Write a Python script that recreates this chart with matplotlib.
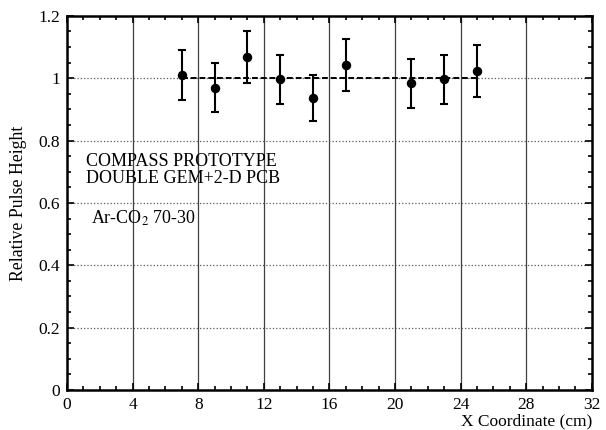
import numpy as np
import matplotlib
matplotlib.use('Agg')
import matplotlib.pyplot as plt
from matplotlib.ticker import MultipleLocator, FormatStrFormatter

# data
x_pos = [7, 9, 11, 13, 15, 17, 21, 23, 25]
rel_height = [1.01, 0.97, 1.068, 0.997, 0.937, 1.042, 0.984, 0.997, 1.024]
rel_err = [0.081, 0.079, 0.084, 0.078, 0.075, 0.084, 0.079, 0.079, 0.083]
fit_x = [7, 25]
fit_y = [1.0, 1.0]
x_ticks = [0, 4, 8, 12, 16, 20, 24, 28, 32]
y_ticks = [0, 0.2, 0.4, 0.6, 0.8, 1.0, 1.2]

plt.rcParams['font.family'] = ['Liberation Serif', 'DejaVu Serif']
plt.rcParams['mathtext.fontset'] = 'stix'

fig = plt.figure(figsize=(6.06, 4.30), dpi=100)
ax = fig.add_axes([0.1106, 0.093, 0.866, 0.870])

# grid
for xv in x_ticks[1:-1]:
    ax.axvline(xv, color='0.25', linewidth=0.9, linestyle='-', zorder=0)
for yv in y_ticks[1:-1]:
    ax.axhline(yv, color='0.35', linewidth=0.9, linestyle=':', zorder=0)

# fit line and points
ax.plot(fit_x, fit_y, color='black', linestyle='--', linewidth=1.4, dashes=(3, 1.5), zorder=2)
ax.errorbar(x_pos, rel_height, yerr=rel_err, fmt='o', color='black',
            markersize=5.8, elinewidth=1.5, capsize=3, capthick=1.5, zorder=3)

ax.set_xlim(0, 32)
ax.set_ylim(0, 1.2)
ax.set_xticks(x_ticks)
ax.set_yticks(y_ticks)
ax.xaxis.set_minor_locator(MultipleLocator(1))
ax.yaxis.set_minor_locator(MultipleLocator(0.05))
ax.yaxis.set_major_formatter(FormatStrFormatter('%g'))
ax.tick_params(which='both', direction='in', top=True, right=True, labelsize=12.5, width=1.2)
ax.tick_params(which='major', length=5, pad=5)
ax.tick_params(which='minor', length=3)
for sp in ax.spines.values():
    sp.set_linewidth(1.8)

ax.set_ylabel('Relative Pulse Height', fontsize=12.8, labelpad=8)
ax.set_xlabel('X Coordinate (cm)', fontsize=12.5, loc='right', labelpad=0)

ax.text(1.15, 0.705, 'COMPASS PROTOTYPE\nDOUBLE GEM+2-D PCB', fontsize=13,
        ha='left', va='center', linespacing=1.0)
ax.text(1.45, 0.55, r'Ar-CO$_2$ 70-30', fontsize=13, ha='left', va='center')

fig.savefig('out.png', dpi=100)
